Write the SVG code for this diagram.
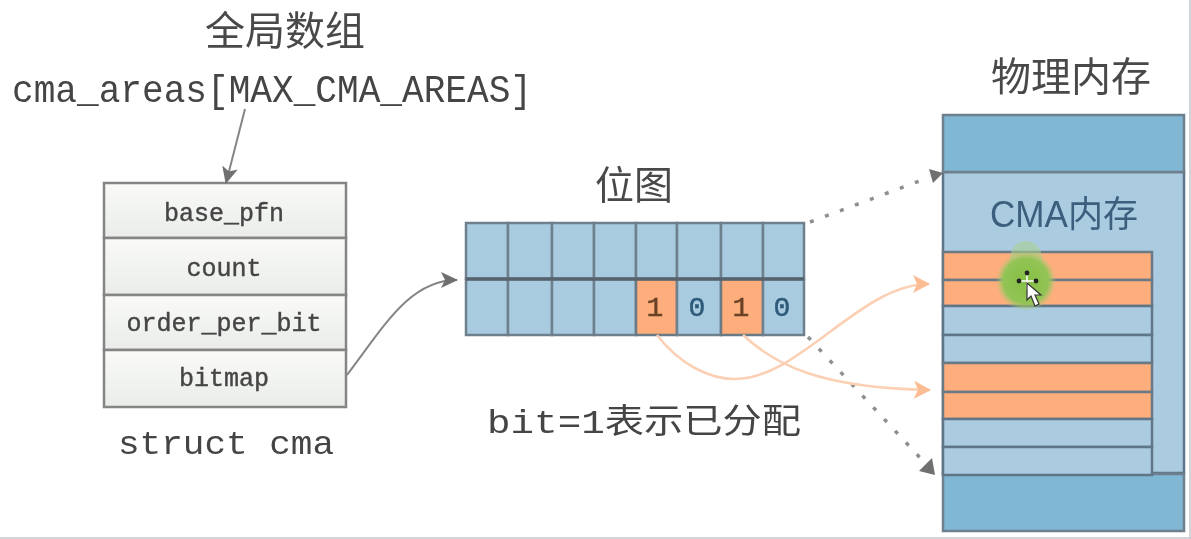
<svg xmlns="http://www.w3.org/2000/svg" width="1191" height="539" viewBox="0 0 1191 539">
<style>
.cjk{font-family:"Noto Sans CJK SC","Noto Sans",sans-serif;fill:#4a4a4a;font-size:40px;text-anchor:middle}
.mono{font-family:"Liberation Mono","DejaVu Sans Mono",monospace;fill:#444}
.field{font-size:25px;text-anchor:middle;fill:#454545;stroke:#454545;stroke-width:.4}
.cell{stroke:#6e7f8d;stroke-width:2.5;fill:#a9cbe0}
.on{stroke:#6b7a85;stroke-width:2.5;fill:#fdae7c}
.row{stroke:#5f7488;stroke-width:2.5;fill:#abcbe1}
.band{stroke:#6e7f8d;stroke-width:2.5;fill:#80b7d4}
.sf{stroke:#858585;stroke-width:2.5;fill:url(#sg)}
.bit{font-size:28px;text-anchor:middle;stroke-width:.5}
.gray{fill:none;stroke:#858585;stroke-width:2}
.dot{fill:none;stroke:#8f8f8f;stroke-width:3.5;stroke-dasharray:4 12}
.org{fill:none;stroke:#fbd0b4;stroke-width:2.6}
</style>
<defs>
<filter id="soft" x="0" y="0" width="1" height="1"><feGaussianBlur stdDeviation="0.55"/></filter>
<linearGradient id="sg" x1="0" y1="0" x2="0" y2="1"><stop offset="0" stop-color="#fafbf9"/><stop offset="1" stop-color="#e9ece8"/></linearGradient>
<radialGradient id="glow"><stop offset="0" stop-color="#85bf45"/><stop offset=".75" stop-color="#92c455"/><stop offset="1" stop-color="#a6cc74" stop-opacity="0"/></radialGradient>
<marker id="ag" markerUnits="userSpaceOnUse" markerWidth="18" markerHeight="16" refX="16" refY="8" orient="auto"><path d="M0 0L17 8L0 16L4 8Z" fill="#6f6f6f"/></marker>
<marker id="ao" markerUnits="userSpaceOnUse" markerWidth="18" markerHeight="18" refX="16" refY="9" orient="auto"><path d="M0 0L17 9L0 18L4 9Z" fill="#fcbc94"/></marker>
</defs>
<rect width="1191" height="539" fill="#fff"/>
<g filter="url(#soft)">
<path d="M0 538H1191M1190 0V539" fill="none" stroke="#c4c7cc" stroke-width="1.5"/>
<g id="title"><text class="cjk" x="285" y="45">全局数组</text></g>
<g id="array-name"><text class="mono" x="12" y="102" font-size="38" textLength="520" lengthAdjust="spacingAndGlyphs">cma_areas[MAX_CMA_AREAS]</text></g>
<g id="struct-cma">
<rect class="sf" x="104" y="183" width="242" height="55"/>
<rect class="sf" x="104" y="238" width="242" height="57"/>
<rect class="sf" x="104" y="295" width="242" height="55"/>
<rect class="sf" x="104" y="350" width="242" height="57"/>
<text class="mono field" x="224" y="221">base_pfn</text>
<text class="mono field" x="224" y="276">count</text>
<text class="mono field" x="224" y="331">order_per_bit</text>
<text class="mono field" x="224" y="386">bitmap</text>
<text class="mono" x="118" y="454" font-size="33" textLength="216" lengthAdjust="spacingAndGlyphs">struct cma</text>
</g>
<g id="bitmap">
<text class="cjk" x="634" y="199" style="font-size:39px">位图</text>
<rect class="cell" x="466" y="223" width="42" height="56"/><rect class="cell" x="508" y="223" width="44" height="56"/><rect class="cell" x="552" y="223" width="42" height="56"/><rect class="cell" x="594" y="223" width="42" height="56"/><rect class="cell" x="636" y="223" width="41" height="56"/><rect class="cell" x="677" y="223" width="44" height="56"/><rect class="cell" x="721" y="223" width="42" height="56"/><rect class="cell" x="763" y="223" width="41" height="56"/>
<rect class="cell" x="466" y="279" width="42" height="56"/><rect class="cell" x="508" y="279" width="44" height="56"/><rect class="cell" x="552" y="279" width="42" height="56"/><rect class="cell" x="594" y="279" width="42" height="56"/><rect class="on" x="636" y="279" width="41" height="56"/><rect class="cell" x="677" y="279" width="44" height="56"/><rect class="on" x="721" y="279" width="42" height="56"/><rect class="cell" x="763" y="279" width="41" height="56"/>
<path d="M466 279H804" stroke="#56636e" stroke-width="3.5"/>
<text class="mono bit" x="655" y="316" style="fill:#6b4326;stroke:#6b4326">1</text>
<text class="mono bit" x="697" y="316" style="fill:#2f5a7a;stroke:#2f5a7a">0</text>
<text class="mono bit" x="741" y="316" style="fill:#6b4326;stroke:#6b4326">1</text>
<text class="mono bit" x="782" y="316" style="fill:#2f5a7a;stroke:#2f5a7a">0</text>
</g>
<g id="bitmap-note"><text x="487" y="433" font-size="34" fill="#444" font-family="Liberation Mono,Noto Sans CJK SC,monospace" textLength="314" lengthAdjust="spacingAndGlyphs">bit=1表示已分配</text></g>
<g id="physical-memory">
<text class="cjk" x="1071" y="91">物理内存</text>
<rect class="row" x="943" y="172" width="241" height="301"/>
<rect class="band" x="943" y="115" width="241" height="57"/>
<rect class="band" x="943" y="474" width="241" height="57"/>
<text x="990" y="227" font-size="36" fill="#3c5f7e" font-family="Liberation Sans,Noto Sans CJK SC,sans-serif" textLength="148" lengthAdjust="spacingAndGlyphs">CMA内存</text>
<rect class="on" x="943" y="252" width="209" height="28"/>
<rect class="on" x="943" y="280" width="209" height="26"/>
<rect class="row" x="943" y="306" width="209" height="29"/>
<rect class="row" x="943" y="335" width="209" height="28"/>
<rect class="on" x="943" y="363" width="209" height="29"/>
<rect class="on" x="943" y="392" width="209" height="27"/>
<rect class="row" x="943" y="419" width="209" height="28"/>
<rect class="row" x="943" y="447" width="209" height="28"/>
</g>
<g id="connectors">
<path class="gray" marker-end="url(#ag)" d="M245 109L226 183"/>
<path class="gray" marker-end="url(#ag)" d="M347 375C385 325 410 280 457 280"/>
<path class="dot" d="M810 222L930 177"/>
<path fill="#6f6f6f" d="M929 169L943 173L933 183Z"/>
<path class="dot" d="M808 337L924 462"/>
<path fill="#6f6f6f" d="M935 475L919 471L932 458Z"/>
<path class="org" marker-end="url(#ao)" d="M657 335C680 365 710 379 735 379C800 379 860 284 929 284"/>
<path class="org" marker-end="url(#ao)" d="M743 335C775 365 820 388 930 390"/>
</g>
<g id="cursor">
<ellipse cx="1026" cy="258" rx="16" ry="17" fill="#a9d28a" opacity=".55"/>
<circle cx="1026" cy="281" r="30" fill="url(#glow)"/>
<path d="M1027 274V290M1020 281H1034" stroke="#fff" stroke-width="1.5"/>
<circle cx="1027" cy="273" r="2.4" fill="#222"/><circle cx="1019" cy="281" r="2.4" fill="#222"/><circle cx="1036" cy="281" r="2.4" fill="#222"/>
<path d="M1027 283L1027 300L1031 296L1035 306L1039 304L1035 295L1041 295Z" fill="#fff" stroke="#333" stroke-width="1.2"/>
</g>
</g>
</svg>
